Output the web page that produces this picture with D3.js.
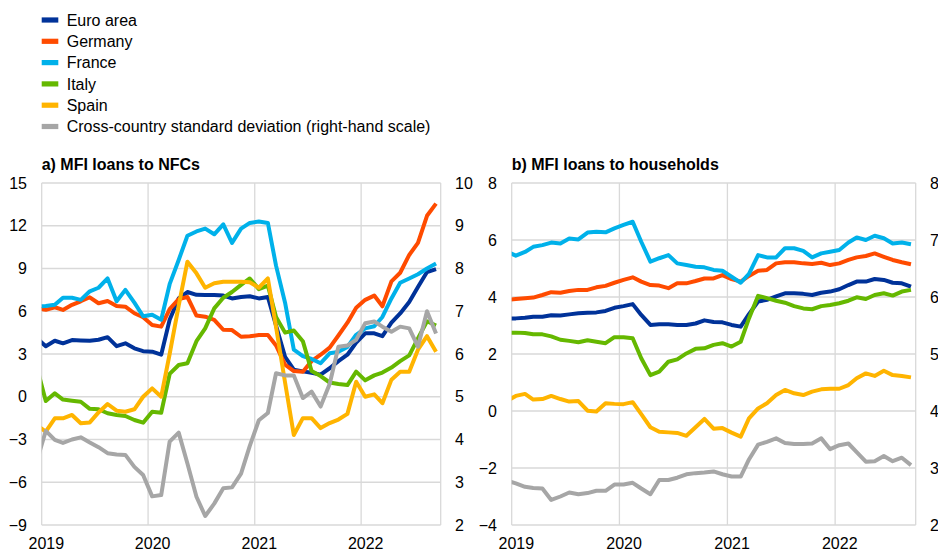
<!DOCTYPE html>
<html><head><meta charset="utf-8">
<script src="https://cdn.jsdelivr.net/npm/d3@7"></script>
<style>
body{margin:0;background:#fff;}
svg{display:block;font-family:Arial,"Liberation Sans",sans-serif;}
</style></head><body>
<svg id="chart" width="938" height="553"></svg>
<script>
// Monthly observations, Dec 2018 - Sep 2022 (plotted at mid-month)
const months = d3.timeMonth.range(new Date(2018, 11, 1), new Date(2022, 9, 1))
  .map(d => new Date(d.getFullYear(), d.getMonth(), 15));

const seriesNames = ["Euro area", "Germany", "France", "Italy", "Spain", "Cross-country standard deviation (right-hand scale)"];
const seriesColors = ["#003299", "#ff4b00", "#00b1ea", "#65b800", "#ffb400", "#a6a6a6"];

// a) MFI loans to NFCs (annual % changes)
const nfcEuro = [4.1,3.55,3.93,3.75,3.98,3.95,3.93,4.0,4.18,3.55,3.75,3.4,3.2,3.16,2.95,5.4,6.9,7.35,7.15,7.14,7.14,7.1,6.9,7.0,7.05,6.9,7.0,5.0,2.8,1.9,1.78,1.68,1.55,2.0,2.5,2.95,3.8,4.45,4.45,4.25,5.2,5.85,6.65,7.7,8.75,8.95];
const nfcGermany = [6.2,6.1,6.28,6.09,6.45,6.7,6.98,6.56,6.72,6.37,6.32,5.86,5.58,5.04,4.92,6.15,6.85,7.0,5.7,5.62,5.4,4.7,4.68,4.21,4.25,4.33,4.33,3.6,2.25,1.8,1.76,2.5,2.95,3.45,4.3,5.2,6.25,6.8,7.1,6.35,8.1,8.7,9.95,10.8,12.7,13.55];
const nfcFrance = [6.35,6.37,6.45,6.95,6.95,6.8,7.4,7.65,8.3,6.7,7.5,6.6,5.65,5.75,5.4,7.9,9.6,11.3,11.6,11.8,11.4,12.1,10.8,11.8,12.2,12.3,12.2,9.2,6.6,3.3,2.85,2.65,2.35,3.05,3.15,3.5,4.35,4.8,4.95,5.6,6.9,8.0,8.3,8.6,9.0,9.35];
const nfcItaly = [2.1,-0.3,0.24,-0.2,-0.28,-0.35,-0.85,-0.88,-1.16,-1.28,-1.35,-1.63,-1.82,-1.05,-1.12,1.6,2.23,2.35,3.9,4.8,6.2,6.95,7.35,7.85,8.3,7.55,7.8,5.6,4.5,4.65,3.9,1.8,1.45,1.0,0.9,0.82,1.76,1.15,1.5,1.7,2.05,2.5,2.9,4.1,5.3,5.0];
const nfcSpain = [-2.0,-2.45,-1.51,-1.51,-1.28,-1.86,-1.8,-1.1,-0.51,-0.98,-1.05,-0.88,0.0,0.59,0.0,3.0,6.4,9.48,8.66,7.65,7.96,8.07,8.07,8.07,8.03,7.65,8.3,4.9,1.0,-2.68,-1.5,-1.5,-2.2,-1.85,-1.6,-1.2,1.05,0.0,0.17,-0.45,1.2,1.75,1.75,3.3,4.25,3.15];
const nfcStd = [3.49,4.2,3.99,3.92,4.0,4.05,3.93,3.82,3.68,3.65,3.64,3.36,3.17,2.67,2.7,3.95,4.16,3.44,2.66,2.21,2.5,2.86,2.88,3.2,3.85,4.45,4.62,5.55,5.5,5.5,4.97,5.12,4.77,5.3,6.17,6.2,6.33,6.72,6.76,6.64,6.52,6.64,6.6,6.17,7.0,6.48];

// b) MFI loans to households (annual % changes)
const hhEuro = [3.25,3.25,3.27,3.31,3.31,3.36,3.35,3.39,3.43,3.45,3.46,3.51,3.62,3.68,3.75,3.37,3.02,3.04,3.04,3.02,3.02,3.07,3.18,3.12,3.11,3.02,2.96,3.4,3.84,3.9,4.02,4.13,4.13,4.11,4.07,4.15,4.19,4.27,4.42,4.54,4.54,4.63,4.6,4.5,4.48,4.36];
const hhGermany = [3.9,3.93,3.96,3.98,4.07,4.17,4.15,4.21,4.25,4.25,4.34,4.39,4.5,4.6,4.69,4.54,4.42,4.4,4.31,4.48,4.48,4.56,4.65,4.65,4.77,4.63,4.54,4.74,4.92,4.95,5.18,5.22,5.22,5.18,5.16,5.2,5.12,5.18,5.3,5.39,5.44,5.53,5.41,5.3,5.22,5.15];
const hhFrance = [5.6,5.45,5.58,5.76,5.82,5.91,5.88,6.05,6.02,6.26,6.29,6.27,6.41,6.53,6.64,5.94,5.24,5.36,5.47,5.18,5.12,5.06,5.04,4.95,4.92,4.71,4.5,4.81,5.47,5.39,5.39,5.71,5.71,5.62,5.39,5.53,5.59,5.65,5.91,6.09,6.0,6.15,6.06,5.88,5.91,5.85];
const hhItaly = [2.75,2.75,2.74,2.69,2.69,2.62,2.5,2.46,2.41,2.48,2.43,2.38,2.59,2.59,2.55,1.85,1.26,1.38,1.73,1.81,2.02,2.18,2.2,2.32,2.38,2.26,2.43,3.25,4.04,3.96,3.87,3.8,3.68,3.6,3.57,3.68,3.72,3.78,3.87,3.99,3.93,4.07,4.13,4.05,4.19,4.25];
const hhSpain = [0.35,0.53,0.6,0.4,0.42,0.53,0.42,0.33,0.35,0.01,-0.02,0.27,0.25,0.24,0.31,-0.11,-0.57,-0.73,-0.75,-0.77,-0.87,-0.57,-0.28,-0.62,-0.6,-0.76,-0.9,-0.26,0.09,0.27,0.56,0.74,0.62,0.56,0.68,0.76,0.78,0.78,0.91,1.15,1.32,1.23,1.41,1.26,1.23,1.18];
const hhStd = [2.78,2.73,2.67,2.65,2.64,2.44,2.5,2.57,2.54,2.56,2.6,2.6,2.71,2.71,2.74,2.64,2.54,2.79,2.79,2.83,2.89,2.91,2.92,2.94,2.89,2.85,2.85,3.15,3.41,3.46,3.52,3.44,3.42,3.42,3.43,3.52,3.33,3.4,3.43,3.28,3.11,3.12,3.21,3.12,3.18,3.05];

const nfcLeftTicks = [-9,-6,-3,0,3,6,9,12,15];
const nfcRightTicks = [2,3,4,5,6,7,8,9,10];
const hhLeftTicks = [-4,-2,0,2,4,6,8];
const hhRightTicks = [2,3,4,5,6,7,8];
const yearLabels = [2019, 2020, 2021, 2022];

const panels = [
  {title: "a) MFI loans to NFCs", x0: 41.7, x1: 440.7, leftTicks: nfcLeftTicks, rightTicks: nfcRightTicks,
   left: [nfcEuro, nfcGermany, nfcFrance, nfcItaly, nfcSpain], right: nfcStd},
  {title: "b) MFI loans to households", x0: 511.7, x1: 915.7, leftTicks: hhLeftTicks, rightTicks: hhRightTicks,
   left: [hhEuro, hhGermany, hhFrance, hhItaly, hhSpain], right: hhStd}
];

const svg = d3.select("#chart");
const plotTop = 183, plotBottom = 525;
const gridColor = "#d9d9d9";
const fontSize = 16;

// Legend
const legend = svg.append("g");
seriesNames.forEach((name, i) => {
  const y = 20 + i * 21.3;
  legend.append("rect").attr("x", 41.7).attr("y", y - 2.6).attr("width", 16.6).attr("height", 5.2)
    .attr("fill", seriesColors[i]);
  legend.append("text").attr("x", 66.7).attr("y", y + 5.7).attr("font-size", fontSize)
    .attr("fill", "#000").text(name);
});

panels.forEach((p, pi) => {
  const g = svg.append("g");
  const x = d3.scaleTime().domain([new Date(2019, 0, 1), new Date(2022, 9, 1)]).range([p.x0, p.x1]);
  const yL = d3.scaleLinear().domain(d3.extent(p.leftTicks)).range([plotBottom, plotTop]);
  const yR = d3.scaleLinear().domain(d3.extent(p.rightTicks)).range([plotBottom, plotTop]);

  // title
  g.append("text").attr("x", p.x0).attr("y", 170).attr("font-size", fontSize).attr("font-weight", "bold")
    .text(p.title);

  // grid
  const grid = g.append("g").attr("stroke", gridColor).attr("stroke-width", 1.3).attr("fill", "none");
  p.leftTicks.forEach(t => grid.append("line").attr("x1", p.x0).attr("x2", p.x1).attr("y1", yL(t)).attr("y2", yL(t)));
  const yearLines = [new Date(2019,0,1), new Date(2020,0,1), new Date(2021,0,1), new Date(2022,0,1), new Date(2022,9,1)];
  yearLines.forEach(d => grid.append("line").attr("x1", x(d)).attr("x2", x(d)).attr("y1", plotTop).attr("y2", plotBottom));

  // axes
  const axL = g.append("g").attr("transform", `translate(${p.x0},0)`)
    .call(d3.axisLeft(yL).tickValues(p.leftTicks).tickSize(0).tickPadding(14.7).tickFormat(d3.format("d")));
  const axR = g.append("g").attr("transform", `translate(${p.x1},0)`)
    .call(d3.axisRight(yR).tickValues(p.rightTicks).tickSize(0).tickPadding(14.3).tickFormat(d3.format("d")));
  const axB = g.append("g").attr("transform", `translate(0,${plotBottom})`)
    .call(d3.axisBottom(x).tickValues(yearLabels.map(yv => new Date(yv, 0, 15))).tickSize(0).tickPadding(13)
      .tickFormat(d3.timeFormat("%Y")));
  [axL, axR, axB].forEach(a => {
    a.select(".domain").remove();
    a.selectAll("text").attr("font-size", fontSize).attr("fill", "#000").attr("font-family", "Arial, 'Liberation Sans', sans-serif");
  });

  // clip
  const clipId = "clip" + pi;
  g.append("clipPath").attr("id", clipId).append("rect")
    .attr("x", p.x0).attr("y", plotTop - 10).attr("width", p.x1 - p.x0).attr("height", plotBottom - plotTop + 20);

  const lines = g.append("g").attr("clip-path", `url(#${clipId})`);
  const lineL = d3.line().x((d, i) => x(months[i])).y(d => yL(d));
  const lineR = d3.line().x((d, i) => x(months[i])).y(d => yR(d));
  p.left.forEach((s, i) => {
    lines.append("path").datum(s).attr("d", lineL).attr("fill", "none")
      .attr("stroke", seriesColors[i]).attr("stroke-width", 4).attr("stroke-linejoin", "round");
  });
  lines.append("path").datum(p.right).attr("d", lineR).attr("fill", "none")
    .attr("stroke", seriesColors[5]).attr("stroke-width", 4).attr("stroke-linejoin", "round");
});
</script>
</body></html>
